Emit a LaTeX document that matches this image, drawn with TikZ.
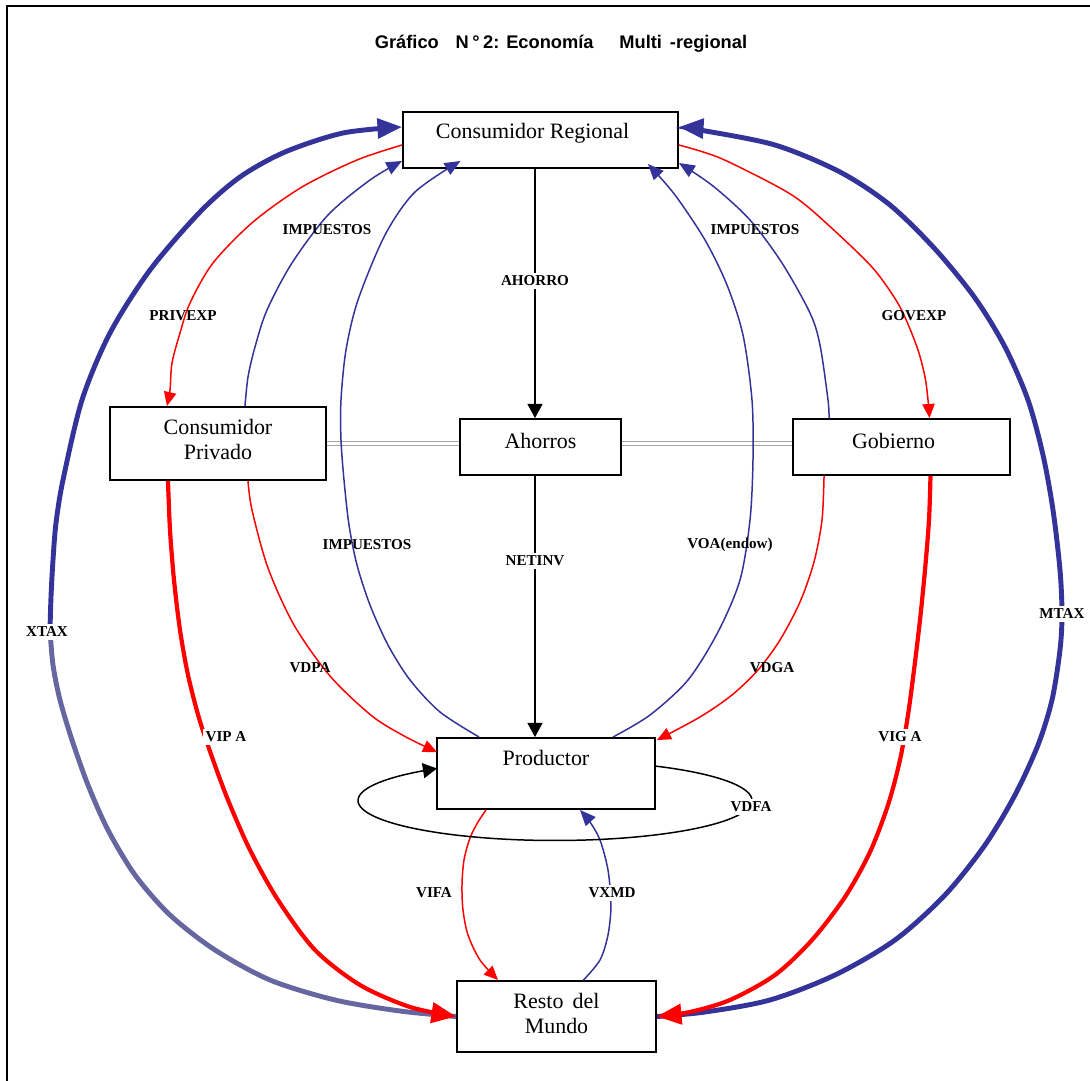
\documentclass[tikz,border=0pt]{standalone}
\usepackage{fontspec}
\setmainfont{Liberation Serif}
\newfontfamily\headfont{Liberation Sans}
\usetikzlibrary{arrows.meta,calc}

\definecolor{flowblue}{HTML}{333399}
\definecolor{flowgrey}{HTML}{6666A0}
\definecolor{flowred}{HTML}{FF0000}

\tikzset{
  box/.style={draw, line width=1.1pt, fill=white, inner sep=0pt, align=center,
              font=\fontsize{12.5}{14}\selectfont},
  lbl/.style={font=\fontsize{8.6}{10}\selectfont\bfseries, inner sep=1.5pt},
  gaplbl/.style={lbl, fill=white},
  thinblue/.style={draw=flowblue, line width=0.85pt, -{Triangle[length=9pt,width=7.5pt]}},
  thickblue/.style={draw=flowblue, line width=2.8pt, -{Triangle[length=14pt,width=11pt]}},
  thickgrey/.style={draw=flowgrey, line width=2.8pt},
  thinred/.style={draw=flowred, line width=0.85pt, -{Triangle[length=8pt,width=7pt]}},
  thickred/.style={draw=flowred, line width=2.4pt, -{Triangle[length=14pt,width=11.5pt]}},
  blackflow/.style={draw=black, line width=0.85pt, -{Triangle[length=8pt,width=8.5pt]}},
  savings/.style={draw=black!35, line width=0.5pt, double=white, double distance=1.4pt},
  curve/.style={smooth, tension=0.5},
}

\begin{document}
\begin{tikzpicture}[x=0.02cm, y=-0.02cm]
\useasboundingbox (0,0) rectangle (1090,1081);

% frame
\draw[line width=1pt] (7,1081) -- (7,6) -- (1090,6);

% title
\node[font=\headfont\bfseries\fontsize{10.4}{12}\selectfont] (title) at (561,44)
  {Gráfico\hspace{9.6pt}N\hspace{2pt}°\hspace{2pt}2: Economía\hspace{14.7pt}Multi\hspace{4.5pt}-regional};

% agents
\node[box, minimum width=5.5cm, minimum height=1.12cm, text height=9pt, text depth=11.2pt]
  (cr) at (540.5,140) {Consumidor Regional\hspace{9pt}};
\node[box, minimum width=4.32cm, minimum height=1.46cm, text depth=4.5pt]
  (cp) at (218,443.5) {Consumidor\\Privado};
\node[box, minimum width=3.22cm, minimum height=1.12cm, text height=9pt, text depth=7.8pt]
  (ah) at (540.5,447) {Ahorros};
\node[box, minimum width=4.34cm, minimum height=1.12cm, text height=9pt, text depth=7.8pt]
  (gob) at (901.5,447) {Gobierno\hspace{9pt}};
\node[box, minimum width=4.36cm, minimum height=1.42cm, text height=9pt, text depth=18.6pt]
  (prod) at (546,773.5) {Productor};
\node[box, minimum width=3.98cm, minimum height=1.42cm, text depth=3.4pt]
  (rm) at (556.5,1016.5) {Resto\, del\\Mundo};

% savings links
\draw[savings] (cp.east) -- (cp.east -| ah.west);
\draw[savings] (ah.east |- cp.east) -- (gob.west |- cp.east);

% savings and net investment
\coordinate (sv) at ($(cr.south)+(-5.5,0)$);
\coordinate (ni) at ($(ah.south)+(-5.5,0)$);
\draw[blackflow] (sv) -- (sv |- ah.north);
\draw[blackflow] (ni) -- (ni |- prod.north);

% private and government expenditure
\draw[thinred] plot[curve] coordinates {($(cr.west)+(0,5)$) (357,160) (302,187) (253,222)
  (213,263) (190,303) (180,333) (172,363) (170,390) ($(cp.north)+(-51,0)$)};
\draw[thinred] plot[curve] coordinates {($(cr.east)+(0,5)$) (720,158) (780,188) (808,207)
  (853,248) (877,273) (900,307) (917,347) (925,377) (928,400) ($(gob.north)+(28,0)$)};

% taxes back to the regional household
\draw[thinblue] plot[curve] coordinates {($(cp.north)+(27,0)$) (248,377) (255,347) (267,310)
  (292,263) (328,215) (370,180) ($(cr.south west)+(0,-8)$)};
\draw[thinblue] plot[curve] coordinates {($(prod.north west)+(43,0)$) (440,712) (410,680)
  (388,645) (370,605) (357,565) (349,525) (344,480) (341,440) (341,400) (346,350)
  (358,300) (385,235) (415,192) ($(cr.south)+(-80,-8)$)};
\draw[thinblue] plot[curve] coordinates {($(prod.north)+(67,0)$) (650,715) (688,680)
  (718,632) (740,580) (750,520) (753,460) (752,400) (743,335) (727,285) (705,240)
  (675,195) ($(cr.south east)+(-31,-5)$)};
\draw[thinblue] plot[curve] coordinates {($(gob.north west)+(37,0)$) (828,400) (820,345)
  (810,313) (782,263) (750,220) (713,186) ($(cr.south east)+(0,-6)$)};

% export and import taxes
\draw[thickgrey] plot[curve] coordinates {(rm.west) (400,1011) (335,1000) (270,980)
  (215,950) (170,915) (135,875) (108,830) (88,785) (72,740) (60,700) (53,665) (50,630)};
\draw[thickblue] plot[curve] coordinates {(50,630) (51,597) (53,560) (56,523) (63,480)
  (82,400) (110,333) (150,270) (200,212) (240,177) (285,152) (343,133)
  ($(cr.west)+(0,-13)$)};
\draw[thickblue] plot[curve] coordinates {(rm.east) (705,1012) (770,1000) (835,975)
  (895,940) (945,895) (985,845) (1015,795) (1038,745) (1052,700) (1060,650)
  (1062,614) (1060,570) (1053,510) (1043,455) (1028,400) (1005,347) (975,298)
  (935,249) (890,205) (840,172) (775,145) (700,130)
  ($(cr.east)+(0,-13)$)};

% imports of private household and government
\draw[thickred] plot[curve] coordinates {($(cp.south)+(-50,0)$) (170,530) (174,580)
  (180,630) (188,675) (199,718) (212,757) (228,800) (250,850) (278,900) (315,950)
  (360,985) (410,1007) (rm.west)};
\draw[thickred] plot[curve] coordinates {($(gob.south)+(29,0)$) (929,520) (925,570)
  (920,620) (914,670) (908,715) (900,760) (888,805) (870,852) (845,897) (812,940)
  (775,975) (730,1000) (690,1012) (rm.east)};

% domestic purchases
\draw[thinred] plot[curve] coordinates {($(cp.south)+(30,0)$) (252,510) (268,568)
  (294,625) (330,676) (372,716) (406,737) ($(prod.north west)+(1,15)$)};
\draw[thinred] plot[curve] coordinates {($(gob.south west)+(32,0)$) (822,520) (814,562)
  (800,602) (780,640) (758,670) (732,695) (700,717) ($(prod.north east)+(1,3)$)};

% trade with the rest of the world
\draw[thinred] plot[curve] coordinates {($(prod.south west)+(50,0)$) (478,822) (470,838)
  (464,860) (462,885) (463,910) (468,935) (480,960) ($(rm.north west)+(42,0)$)};
\draw[thinblue] plot[curve] coordinates {($(rm.north)+(27,0)$) (600,960) (608,935)
  (611,905) (608,870) (600,840) (590,822) ($(prod.south)+(34,0)$)};

% intermediate demand loop
\coordinate (loop) at ($(prod.center)+(9,27)$);
\draw[blackflow, shift={(loop)}] plot[domain=-59.5:233.2, samples=90, smooth]
  ({197*cos(\x)},{40*sin(\x)});

% flow labels
\node[lbl] (tx1) at (327,230) {IMPUESTOS};
\node[lbl] (tx2) at (755,230) {IMPUESTOS};
\node[lbl] (pe) at (183,316) {PRIVEXP};
\node[lbl] (ge) at (914,316) {GOVEXP};
\node[gaplbl] (sa) at (535,281) {AHORRO};
\node[gaplbl] (nt) at (535,561) {NETINV};
\node[lbl] (tx3) at (367,545) {IMPUESTOS};
\node[lbl] (voa) at (730,545) {VOA(endow)};
\node[gaplbl] (xt) at (47,632) {XTAX};
\node[gaplbl] (mt) at (1062,614) {MTAX};
\node[lbl] (vdp) at (310,668) {VDPA};
\node[lbl] (vdg) at (772,668) {VDGA};
\node[gaplbl] (vip) at (226,737) {VIP A};
\node[gaplbl] (vig) at (900,737) {VIG A};
\node[gaplbl] (vdf) at (751,807) {VDFA};
\node[gaplbl] (vif) at (434,893) {VIFA};
\node[gaplbl] (vxm) at (612,893) {VXMD};
\end{tikzpicture}
\end{document}
